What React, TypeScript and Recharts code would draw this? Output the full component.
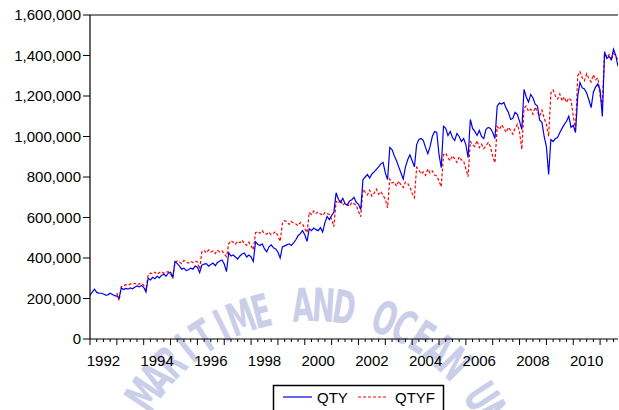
import { LineChart, Line, XAxis, YAxis, ReferenceLine } from "recharts";

// monthly values in thousands, one row per year (Jan..Dec)
const firstYear = 1992;

const qtyRows: number[][] = [
  [215, 232, 246, 230, 227, 226, 222, 217, 218, 226, 220, 214], // 1992
  [212, 203, 252, 244, 250, 246, 252, 248, 255, 262, 258, 264], // 1993
  [255, 232, 300, 292, 305, 298, 310, 302, 315, 320, 310, 325], // 1994
  [330, 305, 383, 372, 360, 345, 350, 338, 342, 350, 345, 360], // 1995
  [355, 328, 365, 370, 372, 360, 368, 375, 362, 378, 385, 390], // 1996
  [370, 333, 426, 410, 415, 405, 395, 410, 420, 425, 405, 415], // 1997
  [405, 383, 480, 468, 462, 470, 445, 430, 455, 465, 450, 445], // 1998
  [430, 400, 455, 460, 465, 470, 462, 475, 490, 510, 520, 535], // 1999
  [515, 482, 545, 535, 548, 540, 535, 550, 528, 575, 605, 590], // 2000
  [610, 625, 722, 690, 675, 695, 668, 660, 682, 688, 700, 675], // 2001
  [665, 639, 787, 800, 812, 795, 815, 825, 838, 850, 865, 872], // 2002
  [820, 787, 945, 935, 905, 880, 850, 820, 790, 850, 885, 910], // 2003
  [880, 850, 960, 985, 990, 980, 945, 915, 950, 1000, 1025, 1020], // 2004
  [910, 846, 1050, 1040, 1005, 1025, 995, 980, 1015, 1000, 975, 990], // 2005
  [960, 896, 1084, 1040, 1025, 1005, 1030, 1000, 990, 1035, 1045, 1040], // 2006
  [1020, 990, 1150, 1165, 1160, 1168, 1140, 1120, 1084, 1090, 1120, 1110], // 2007
  [1075, 1035, 1233, 1195, 1170, 1208, 1190, 1160, 1150, 1080, 1070, 1000], // 2008
  [950, 812, 985, 975, 990, 995, 1020, 1040, 1060, 1075, 1100, 1045], // 2009
  [1055, 1020, 1198, 1267, 1240, 1235, 1215, 1180, 1143, 1220, 1245, 1260], // 2010
  [1230, 1099, 1416, 1385, 1395, 1380, 1431, 1400, 1346], // 2011
];

// forecast series starts in 1993
const qtyfFirstYear = 1993;
const qtyfRows: number[][] = [
  [228, 190, 258, 262, 268, 265, 272, 270, 275, 268, 272, 275], // 1993
  [265, 240, 318, 325, 322, 330, 320, 328, 333, 325, 330, 332], // 1994
  [320, 302, 378, 385, 380, 372, 388, 380, 375, 383, 378, 385], // 1995
  [380, 345, 430, 438, 425, 440, 430, 435, 422, 438, 430, 436], // 1996
  [420, 407, 470, 485, 478, 468, 482, 475, 488, 470, 462, 478], // 1997
  [460, 441, 525, 530, 522, 535, 520, 518, 528, 515, 522, 530], // 1998
  [510, 482, 572, 585, 578, 566, 580, 572, 568, 560, 575, 568], // 1999
  [545, 525, 625, 615, 632, 620, 628, 618, 610, 625, 620, 615], // 2000
  [590, 554, 680, 670, 688, 660, 672, 665, 655, 675, 668, 660], // 2001
  [630, 604, 740, 725, 712, 735, 705, 720, 740, 715, 728, 710], // 2002
  [690, 648, 790, 770, 775, 755, 780, 760, 748, 775, 768, 750], // 2003
  [720, 698, 848, 835, 815, 825, 808, 840, 820, 830, 810, 805], // 2004
  [780, 752, 910, 918, 895, 880, 905, 890, 872, 900, 885, 878], // 2005
  [840, 802, 975, 960, 950, 980, 945, 962, 940, 955, 970, 950], // 2006
  [900, 871, 1050, 1035, 1058, 1040, 1020, 1045, 1030, 1012, 1040, 1060], // 2007
  [1020, 936, 1140, 1150, 1125, 1135, 1110, 1145, 1120, 1100, 1130, 1090], // 2008
  [1060, 1000, 1215, 1230, 1200, 1185, 1210, 1175, 1195, 1168, 1190, 1180], // 2009
  [1100, 1035, 1300, 1320, 1290, 1275, 1310, 1285, 1270, 1305, 1280, 1290], // 2010
  [1200, 1150, 1420, 1390, 1405, 1375, 1410, 1395, 1380], // 2011
];

const yTicks = [0, 200000, 400000, 600000, 800000, 1000000, 1200000, 1400000, 1600000];
const yearLabels = [1992, 1994, 1996, 1998, 2000, 2002, 2004, 2006, 2008, 2010];
const xEnd = 2011 + 8 / 12;
const watermarkText = "MARITIME AND OCEAN UNI";

const data: { t: number; QTY: number; QTYF: number | null }[] = [];
qtyRows.forEach((row, i) => {
  row.forEach((v, m) => {
    const fi = firstYear + i - qtyfFirstYear;
    const f = fi >= 0 ? qtyfRows[fi]?.[m] : undefined;
    data.push({ t: firstYear + i + m / 12, QTY: v * 1000, QTYF: f != null ? f * 1000 : null });
  });
});

// quarterly ticks, long ones on year boundaries
const xTicks: number[] = [];
for (let q = 0; 1992 + q / 4 <= xEnd; q++) xTicks.push(1992 + q / 4);

const font = "'Liberation Sans', Arial, sans-serif";

function YearTick({ x, y, payload }: any) {
  const v = payload.value;
  const yr = Math.floor(v + 1e-6);
  const frac = v - yr;
  const major = frac < 0.01;
  const mid = Math.abs(frac - 0.5) < 0.01 && yearLabels.includes(yr);
  return (
    <g>
      <line x1={x} x2={x} y1={y} y2={y + (major ? 6 : 3)} stroke="#000" strokeWidth={1} />
      {mid && (
        <text x={x} y={y + 27} textAnchor="middle" fontSize={15} fill="#000" fontFamily={font}>
          {yr}
        </text>
      )}
    </g>
  );
}

// faint arched watermark, one letter at a time, clipped to the page
function Watermark() {
  const cx = 312;
  const cy = 507;
  const r = 186;
  const step = 5.95;
  const start = -59.2;
  return (
    <svg width={619} height={410} style={{ position: "absolute", left: 0, top: 0, overflow: "hidden" }}>
      {watermarkText.split("").map((ch, i) => {
        if (ch === " ") return null;
        const a = start + (i + 0.5) * step;
        const rad = (a * Math.PI) / 180;
        const px = cx + r * Math.sin(rad);
        const py = cy - r * Math.cos(rad);
        return (
          <text
            key={i}
            transform={`translate(${px.toFixed(1)},${py.toFixed(1)}) rotate(${a.toFixed(1)}) scale(0.66,1)`}
            textAnchor="middle"
            fontSize={46}
            fontWeight="bold"
            fill="#cbcee9"
            fontFamily="'DejaVu Sans Condensed', 'DejaVu Sans', sans-serif"
          >
            {ch}
          </text>
        );
      })}
    </svg>
  );
}

function LegendBox() {
  return (
    <svg width={619} height={410} style={{ position: "absolute", left: 0, top: 0 }}>
      <rect x={273.5} y={385.5} width={170} height={30} fill="#fff" stroke="#000" strokeWidth={1.5} />
      <line x1={283} x2={312} y1={397} y2={397} stroke="#0000ee" strokeWidth={1.2} />
      <text x={317} y={403} fontSize={15} fontFamily={font} fill="#000">QTY</text>
      <line x1={358} x2={388} y1={397} y2={397} stroke="#ff0000" strokeWidth={1.2} strokeDasharray="3 2" />
      <text x={395} y={403} fontSize={15} fontFamily={font} fill="#000">QTYF</text>
    </svg>
  );
}

export default function App() {
  return (
    <div style={{ position: "absolute", left: 0, top: 0, width: 619, height: 410, background: "#fff", overflow: "hidden" }}>
      <Watermark />
      <div style={{ position: "absolute", left: 0, top: 0 }}>
        <LineChart width={619} height={410} data={data} margin={{ top: 15, right: 1, bottom: 0, left: 0 }}>
          <XAxis
            dataKey="t"
            type="number"
            domain={[1992, xEnd]}
            ticks={xTicks}
            interval={0}
            tick={<YearTick />}
            tickLine={false}
            tickSize={0}
            tickMargin={0}
            height={71}
            axisLine={{ stroke: "#000", strokeWidth: 1.2 }}
            allowDataOverflow
          />
          <YAxis
            domain={[0, 1600000]}
            ticks={yTicks}
            interval={0}
            width={90}
            tickSize={7}
            tickMargin={2}
            tickFormatter={(v: number) => v.toLocaleString("en-US")}
            tick={{ fontSize: 15, fill: "#000", fontFamily: font }}
            tickLine={{ stroke: "#000" }}
            axisLine={{ stroke: "#000", strokeWidth: 1.2 }}
          />
          <ReferenceLine y={1600000} stroke="#000" strokeWidth={1.2} />
          <Line
            type="linear"
            dataKey="QTYF"
            stroke="#ff0000"
            strokeWidth={1.2}
            strokeDasharray="3 2"
            dot={false}
            isAnimationActive={false}
          />
          <Line type="linear" dataKey="QTY" stroke="#0000ee" strokeWidth={1.2} dot={false} isAnimationActive={false} />
        </LineChart>
      </div>
      <LegendBox />
    </div>
  );
}
